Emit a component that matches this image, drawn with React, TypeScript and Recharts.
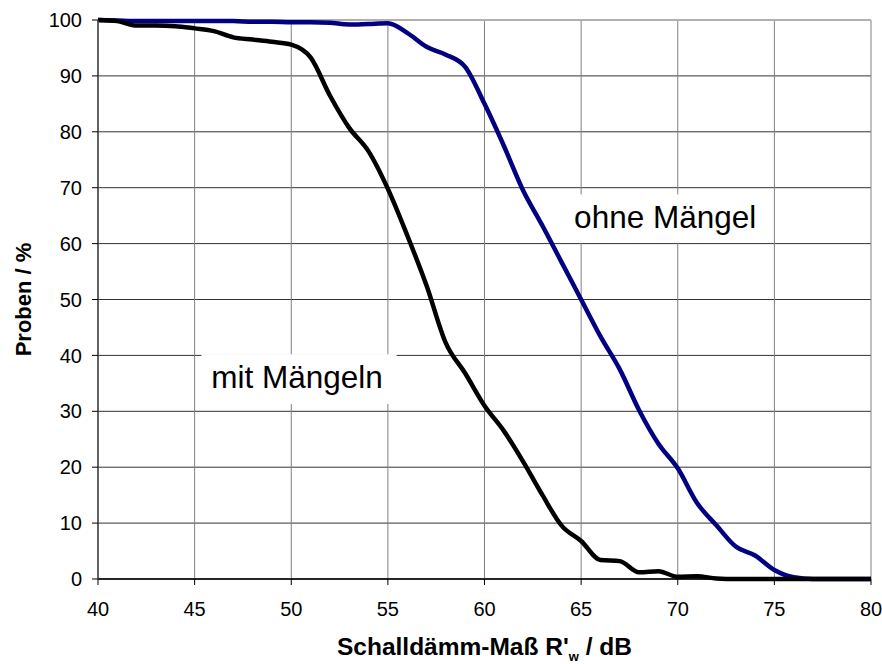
import {
  LineChart,
  Line,
  XAxis,
  YAxis,
  CartesianGrid,
  ReferenceArea,
  ReferenceLine,
  Label,
} from "recharts";

// Schalldämm-Maß R'w in dB
const schalldaemmMass = [
  40, 41, 42, 43, 44, 45, 46, 47, 48, 49, 50, 51, 52, 53, 54, 55, 56, 57, 58, 59, 60,
  61, 62, 63, 64, 65, 66, 67, 68, 69, 70, 71, 72, 73, 74, 75, 76, 77, 78, 79, 80,
];

// Proben / % (Summenhäufigkeit)
const mitMaengeln = [
  100, 99.8, 99.0, 99.0, 98.9, 98.5, 98.0, 96.9, 96.5, 96.1, 95.6, 93.3, 86.5, 80.7,
  76.5, 69.8, 61.5, 52.5, 42.2, 36.8, 31.0, 26.5, 21.0, 15.0, 9.5, 6.8, 3.4, 3.2, 1.2,
  1.4, 0.4, 0.5, 0.1, 0, 0, 0, 0, 0, 0, 0, 0,
];

const ohneMaengel = [
  100, 99.9, 99.8, 99.8, 99.8, 99.8, 99.8, 99.8, 99.7, 99.7, 99.6, 99.6, 99.5, 99.2,
  99.3, 99.4, 97.7, 95.2, 93.8, 91.6, 85.0, 77.5, 69.5, 63.2, 56.6, 50.0, 43.4, 37.5,
  30.2, 24.2, 19.8, 13.6, 9.6, 5.8, 4.2, 1.6, 0.3, 0, 0, 0, 0,
];

const xTicks = [40, 45, 50, 55, 60, 65, 70, 75, 80];
const yTicks = [0, 10, 20, 30, 40, 50, 60, 70, 80, 90, 100];

const data = schalldaemmMass.map((x, i) => ({
  x,
  mit: mitMaengeln[i],
  ohne: ohneMaengel[i],
}));

const FONT = "Arial, 'Liberation Sans', sans-serif";

const XTitle = (props: any) => {
  const vb = props.viewBox;
  const cx = vb.x + vb.width / 2;
  const y = vb.y + 76;
  return (
    <text
      x={cx}
      y={y}
      textAnchor="middle"
      fontFamily={FONT}
      fontWeight="bold"
      fontSize={24.5}
      fill="#000"
    >
      Schalldämm-Maß R'
      <tspan fontSize={13} dy={6}>
        w
      </tspan>
      <tspan dy={-6}> / dB</tspan>
    </text>
  );
};

const YTitle = (props: any) => {
  const vb = props.viewBox;
  const cx = 23;
  const cy = vb.y + vb.height / 2;
  return (
    <text
      x={cx}
      y={cy}
      transform={`rotate(-90, ${cx}, ${cy})`}
      textAnchor="middle"
      dominantBaseline="central"
      fontFamily={FONT}
      fontWeight="bold"
      fontSize={22}
      fill="#000"
    >
      Proben / %
    </text>
  );
};

export default function App() {
  const tickStyle = { fontSize: 20, fill: "#000", fontFamily: FONT };
  return (
    <div style={{ position: "absolute", left: 0, top: 0, background: "#fff" }}>
      <LineChart
        width={882}
        height={664}
        data={data}
        margin={{ top: 20, right: 11, bottom: 0, left: 0 }}
      >
        <CartesianGrid horizontal={true} vertical={false} stroke="#333" strokeWidth={1} />
        <CartesianGrid horizontal={false} vertical={true} stroke="#808080" strokeWidth={1} />
        <ReferenceLine y={100} stroke="#b0b0b0" strokeWidth={2} />
        <XAxis
          dataKey="x"
          type="number"
          domain={[40, 80]}
          ticks={xTicks}
          interval={0}
          tick={tickStyle}
          tickSize={6}
          tickMargin={17}
          axisLine={{ stroke: "#000", strokeWidth: 1.5 }}
          tickLine={{ stroke: "#000" }}
          height={85}
        >
          <Label content={<XTitle />} />
        </XAxis>
        <YAxis
          type="number"
          domain={[0, 100]}
          ticks={yTicks}
          interval={0}
          tick={tickStyle}
          tickSize={6}
          tickMargin={10}
          axisLine={{ stroke: "#444", strokeWidth: 1.5 }}
          tickLine={{ stroke: "#000" }}
          width={98}
        >
          <Label content={<YTitle />} />
        </YAxis>
        <ReferenceArea
          x1={64.0}
          x2={74.7}
          y1={60.1}
          y2={68.8}
          fill="#fff"
          fillOpacity={1}
          stroke="none"
        >
          <Label
            value="ohne Mängel"
            position="center"
            fontSize={31.5}
            fontFamily={FONT}
            fill="#000"
            dy={-2}
          />
        </ReferenceArea>
        <ReferenceArea
          x1={45.35}
          x2={55.45}
          y1={31.3}
          y2={40.2}
          fill="#fff"
          fillOpacity={1}
          stroke="none"
        >
          <Label
            value="mit Mängeln"
            position="center"
            fontSize={31.5}
            fontFamily={FONT}
            fill="#000"
            dx={-2}
            dy={-2}
          />
        </ReferenceArea>
        <Line
          type="monotone"
          dataKey="ohne"
          stroke="#000080"
          strokeWidth={4.5}
          dot={false}
          isAnimationActive={false}
        />
        <Line
          type="monotone"
          dataKey="mit"
          stroke="#000"
          strokeWidth={4.5}
          dot={false}
          isAnimationActive={false}
        />
      </LineChart>
    </div>
  );
}
